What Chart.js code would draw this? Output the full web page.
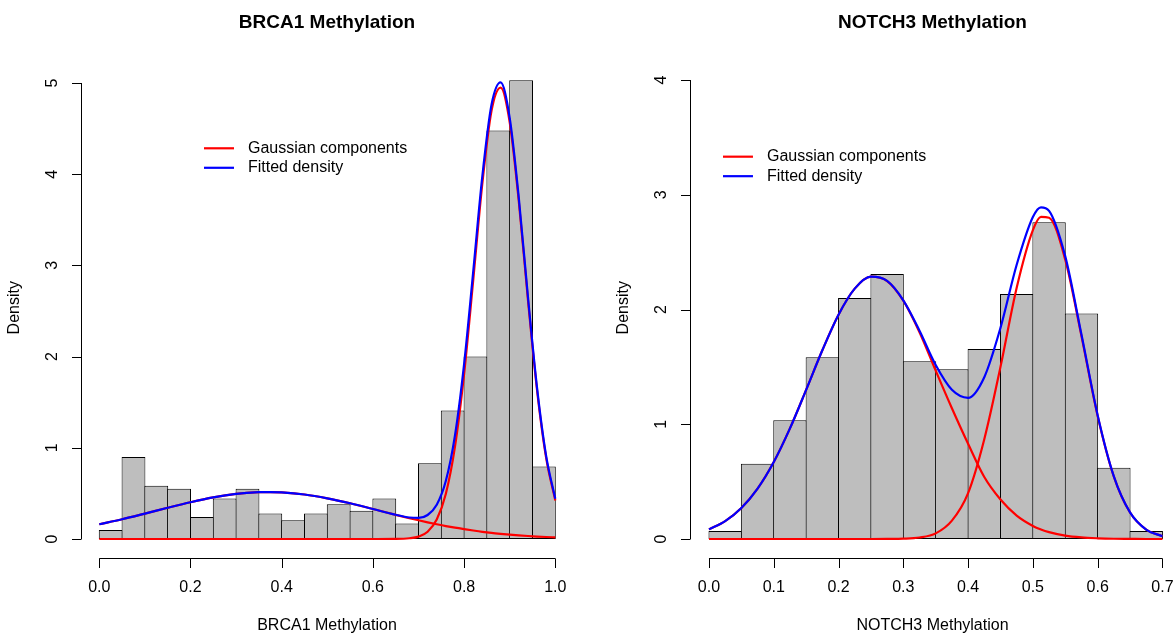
<!DOCTYPE html>
<html lang="en">
<head>
  <meta charset="UTF-8" />
  <title>BRCA1 / NOTCH3 Methylation</title>
  <style>
    * { margin: 0; padding: 0; box-sizing: border-box; }
    html, body { width: 1175px; height: 636px; background: #fff; overflow: hidden; }
    .panel { position: absolute; top: 0; }
    #left { left: 0; }
    #right { left: 587px; }
  </style>
</head>
<body>
  <canvas id="left" class="panel" width="587" height="636"></canvas>
  <canvas id="right" class="panel" width="588" height="636"></canvas>
  <script src="https://cdn.jsdelivr.net/npm/chart.js"></script>
  <script>
    // histogram bins (mid points) and densities
    const brcaMids = [0.025, 0.075, 0.125, 0.175, 0.225, 0.275, 0.325, 0.375, 0.425, 0.475,
                      0.525, 0.575, 0.625, 0.675, 0.725, 0.775, 0.825, 0.875, 0.925, 0.975];
    const brcaDensity = [0.10, 0.90, 0.585, 0.55, 0.24, 0.445, 0.55, 0.28, 0.205, 0.28,
                         0.38, 0.31, 0.445, 0.17, 0.83, 1.41, 2.00, 4.48, 5.03, 0.795];

    const notchMids = [0.025, 0.075, 0.125, 0.175, 0.225, 0.275, 0.325, 0.375, 0.425, 0.475,
                       0.525, 0.575, 0.625, 0.675];
    const notchDensity = [0.07, 0.655, 1.035, 1.585, 2.10, 2.31, 1.55, 1.48, 1.655, 2.135,
                          2.76, 1.965, 0.62, 0.07];

    // curves
    const brcaCurveX = [0, 0.05, 0.1, 0.15, 0.2, 0.25, 0.3, 0.35, 0.375, 0.4, 0.45, 0.5, 0.55, 0.6,
                        0.65, 0.68, 0.7, 0.72, 0.74, 0.76, 0.78, 0.8, 0.82, 0.84, 0.86, 0.88,
                        0.9, 0.92, 0.94, 0.96, 0.98, 1.0];
    const brcaComp1 = [0.162, 0.216, 0.278, 0.342, 0.403, 0.456, 0.494, 0.513, 0.515, 0.511, 0.488,
                       0.446, 0.392, 0.329, 0.265, 0.228, 0.205, 0.183, 0.162, 0.142, 0.124, 0.108,
                       0.093, 0.079, 0.067, 0.057, 0.048, 0.040, 0.033, 0.027, 0.022, 0.018];
    const brcaComp2 = [0, 0, 0, 0, 0, 0, 0, 0, 0, 0, 0, 0, 0, 0,
                       0.001, 0.008, 0.026, 0.080, 0.213, 0.496, 1.012, 1.810, 2.839, 3.899,
                       4.692, 4.950, 4.569, 3.698, 2.623, 1.630, 0.886, 0.423];
    const brcaFit = [0.162, 0.216, 0.278, 0.342, 0.403, 0.456, 0.494, 0.513, 0.515, 0.511, 0.488,
                     0.446, 0.392, 0.329, 0.266, 0.236, 0.231, 0.263, 0.375, 0.638, 1.136, 1.918,
                     2.932, 3.978, 4.759, 5.007, 4.617, 3.738, 2.656, 1.657, 0.908, 0.441];

    const notchCurveX = [0, 0.025, 0.05, 0.075, 0.1, 0.125, 0.15, 0.175, 0.2, 0.225, 0.25, 0.275,
                         0.3, 0.325, 0.35, 0.375, 0.4, 0.425, 0.45, 0.475, 0.5, 0.5125, 0.525,
                         0.55, 0.575, 0.6, 0.625, 0.65, 0.675, 0.7];
    const notchComp1 = [0.084, 0.156, 0.270, 0.439, 0.671, 0.964, 1.300, 1.645, 1.955, 2.182, 2.286,
                        2.248, 2.077, 1.802, 1.467, 1.14, 0.83, 0.54, 0.344, 0.204, 0.114, 0.083,
                        0.060, 0.029, 0.0135, 0.006, 0.002, 0.001, 0, 0];
    const notchComp2 = [0, 0, 0, 0, 0, 0, 0, 0, 0, 0, 0, 0.001, 0.003, 0.013, 0.049, 0.16, 0.40,
                        0.87, 1.50, 2.19, 2.692, 2.808, 2.800, 2.434, 1.768, 1.073, 0.544, 0.231,
                        0.082, 0.024];
    const notchFit = [0.084, 0.156, 0.270, 0.439, 0.671, 0.964, 1.300, 1.645, 1.955, 2.182, 2.286,
                      2.249, 2.080, 1.815, 1.516, 1.30, 1.23, 1.41, 1.84, 2.39, 2.806, 2.891, 2.860,
                      2.463, 1.782, 1.079, 0.546, 0.232, 0.082, 0.024];

    // axis ticks
    const brcaXTicks = [0, 0.2, 0.4, 0.6, 0.8, 1.0];
    const brcaYTicks = [0, 1, 2, 3, 4, 5];
    const notchXTicks = [0, 0.1, 0.2, 0.3, 0.4, 0.5, 0.6, 0.7];
    const notchYTicks = [0, 1, 2, 3, 4];
    const legendLabels = ['Gaussian components', 'Fitted density'];

    const FONT = '"Liberation Sans", Arial, Helvetica, sans-serif';

    // base-R look: detached axes, rotated y labels, plain legend
    const rStyle = {
      id: 'rStyle',
      afterDraw(chart, args, o) {
        const { ctx, chartArea: a, scales: { x, y } } = chart;
        ctx.save();
        ctx.strokeStyle = '#000';
        ctx.fillStyle = '#000';
        ctx.lineWidth = 1;

        // x axis
        const ay = Math.round(a.bottom) + 0.5;
        const x0 = x.getPixelForValue(o.xTicks[0]);
        const x1 = x.getPixelForValue(o.xTicks[o.xTicks.length - 1]);
        ctx.beginPath();
        ctx.moveTo(x0, ay); ctx.lineTo(x1, ay);
        o.xTicks.forEach(v => {
          const px = Math.round(x.getPixelForValue(v)) + 0.5;
          ctx.moveTo(px, ay); ctx.lineTo(px, ay + 9.5);
        });
        ctx.stroke();
        ctx.font = '16px ' + FONT;
        ctx.textAlign = 'center';
        ctx.textBaseline = 'alphabetic';
        o.xTicks.forEach(v => ctx.fillText(v.toFixed(1), x.getPixelForValue(v), a.bottom + 34));

        // y axis
        const ax = Math.round(a.left) + 0.5;
        const y0 = y.getPixelForValue(o.yTicks[0]);
        const y1 = y.getPixelForValue(o.yTicks[o.yTicks.length - 1]);
        ctx.beginPath();
        ctx.moveTo(ax, y0); ctx.lineTo(ax, y1);
        o.yTicks.forEach(v => {
          const py = Math.round(y.getPixelForValue(v)) + 0.5;
          ctx.moveTo(ax, py); ctx.lineTo(ax - 9.5, py);
        });
        ctx.stroke();
        o.yTicks.forEach(v => {
          ctx.save();
          ctx.translate(a.left - 23.7, y.getPixelForValue(v));
          ctx.rotate(-Math.PI / 2);
          ctx.fillText(String(v), 0, 0);
          ctx.restore();
        });

        // axis titles
        const cx = (a.left + a.right) / 2;
        ctx.fillText(o.xTitle, cx, a.bottom + 72.3);
        ctx.save();
        ctx.translate(a.left - 61.8, (a.top + a.bottom) / 2);
        ctx.rotate(-Math.PI / 2);
        ctx.fillText('Density', 0, 0);
        ctx.restore();

        // main title
        ctx.font = 'bold 19px ' + FONT;
        ctx.fillText(o.title, cx, 28);

        // legend
        const lx = x.getPixelForValue(o.legendX);
        const ly = y.getPixelForValue(o.legendY);
        ctx.font = '16px ' + FONT;
        ctx.textAlign = 'left';
        ctx.textBaseline = 'middle';
        ctx.lineWidth = 2.2;
        ['#ff0000', '#0000ff'].forEach((c, i) => {
          const yy = ly + i * 19.5;
          ctx.strokeStyle = c;
          ctx.beginPath();
          ctx.moveTo(lx, yy); ctx.lineTo(lx + 30, yy);
          ctx.stroke();
          ctx.fillText(legendLabels[i], lx + 44, yy);
        });
        ctx.restore();
      }
    };

    function pts(xs, ys) {
      return xs.map((v, i) => ({ x: v, y: ys[i] }));
    }

    function lineSet(data, color, order) {
      return {
        type: 'line',
        data: data,
        borderColor: color,
        borderWidth: 2.2,
        pointRadius: 0,
        fill: false,
        cubicInterpolationMode: 'monotone',
        order: order
      };
    }

    function makeChart(id, cfg) {
      return new Chart(document.getElementById(id), {
        type: 'bar',
        data: {
          datasets: [
            {
              data: pts(cfg.mids, cfg.density),
              backgroundColor: '#bebebe',
              borderColor: '#000',
              borderWidth: 1,
              borderSkipped: false,
              barPercentage: cfg.barPct,
              categoryPercentage: 1,
              order: 3
            },
            lineSet(pts(cfg.curveX, cfg.comp1), '#ff0000', 2),
            lineSet(pts(cfg.curveX, cfg.comp2), '#ff0000', 2),
            lineSet(pts(cfg.curveX, cfg.fit), '#0000ff', 1)
          ]
        },
        options: {
          responsive: false,
          animation: false,
          layout: { padding: cfg.padding },
          scales: {
            x: { type: 'linear', min: cfg.xMin, max: cfg.xMax, offset: false, display: false },
            y: { min: cfg.yMin, max: cfg.yMax, display: false }
          },
          plugins: {
            legend: { display: false },
            tooltip: { enabled: false },
            rStyle: {
              xTicks: cfg.xTicks, yTicks: cfg.yTicks,
              title: cfg.title, xTitle: cfg.xTitle,
              legendX: cfg.legendX, legendY: cfg.legendY
            }
          }
        },
        plugins: [rStyle]
      });
    }

    makeChart('left', {
      mids: brcaMids, density: brcaDensity,
      curveX: brcaCurveX, comp1: brcaComp1, comp2: brcaComp2, fit: brcaFit,
      xTicks: brcaXTicks, yTicks: brcaYTicks,
      title: 'BRCA1 Methylation', xTitle: 'BRCA1 Methylation',
      xMin: -0.0401, xMax: 1.0388, yMin: -0.2029, yMax: 5.274,
      padding: { left: 81, right: 14, top: 58, bottom: 78.5 },
      barPct: 1.044,
      legendX: 0.2296, legendY: 4.284
    });

    makeChart('right', {
      mids: notchMids, density: notchDensity,
      curveX: notchCurveX, comp1: notchComp1, comp2: notchComp2, fit: notchFit,
      xTicks: notchXTicks, yTicks: notchYTicks,
      title: 'NOTCH3 Methylation', xTitle: 'NOTCH3 Methylation',
      xMin: -0.0293, xMax: 0.7194, yMin: -0.1612, yMax: 4.192,
      padding: { left: 103, right: 0, top: 58, bottom: 78.5 },
      barPct: 1.031,
      legendX: 0.0216, legendY: 3.332
    });
  </script>
</body>
</html>
